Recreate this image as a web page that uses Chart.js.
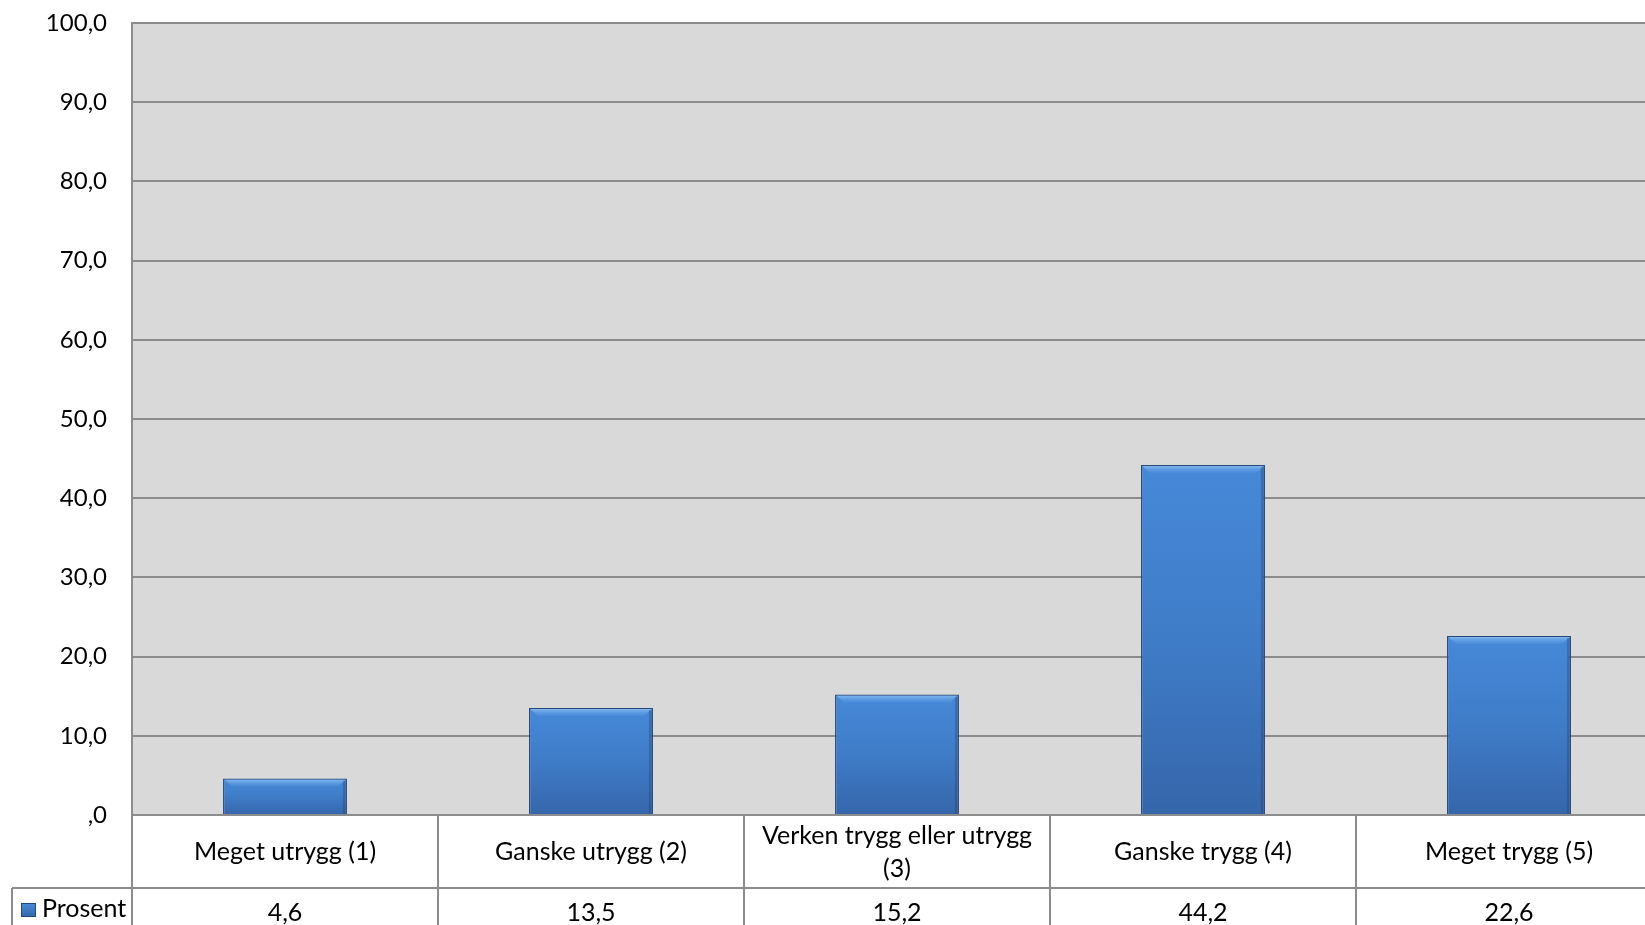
<!DOCTYPE html>
<html lang="no">
<head>
  <meta charset="UTF-8">
  <title>Prosent</title>
  <script src="https://cdn.jsdelivr.net/npm/chart.js"></script>
  <style>
    html, body {
      margin: 0;
      padding: 0;
      overflow: hidden;
      background: #fff;
    }
    canvas {
      display: block;
    }
  </style>
</head>
<body>
  <canvas id="grafico" width="1680" height="925"></canvas>

  <script>
    // data
    const kategorier = [
      'Meget utrygg (1)',
      'Ganske utrygg (2)',
      ['Verken trygg eller utrygg', '(3)'],
      'Ganske trygg (4)',
      'Meget trygg (5)'
    ];
    const prosent = [4.6, 13.5, 15.2, 44.2, 22.6];
    const serieNavn = 'Prosent';
    const yTicks = [0, 10, 20, 30, 40, 50, 60, 70, 80, 90, 100];

    const FONT = 'Lato, "Open Sans", sans-serif';
    const LINJE = '#8c8c8c';

    const komma = v => v.toFixed(1).replace('.', ',');
    const tickTekst = v => (v === 0 ? ',0' : komma(v));

    function stolpeFarge(context) {
      const chart = context.chart;
      const { ctx, chartArea } = chart;
      if (!chartArea || context.type !== 'data') return '#3f78c4';
      const y = chart.scales.y;
      const topp = y.getPixelForValue(context.parsed.y);
      const bunn = y.getPixelForValue(0);
      const g = ctx.createLinearGradient(0, topp, 0, bunn);
      g.addColorStop(0, '#4689d8');
      g.addColorStop(0.5, '#3f7cc8');
      g.addColorStop(1, '#3566aa');
      return g;
    }

    // bevel on top of the bars + data table under the plot
    const tabellPlugin = {
      id: 'tabell',
      afterDatasetsDraw(chart) {
        const { ctx } = chart;
        const meta = chart.getDatasetMeta(0);
        ctx.save();
        meta.data.forEach(bar => {
          const l = bar.x - bar.width / 2;
          const r = bar.x + bar.width / 2;
          const t = bar.y;
          const b = Math.min(t + 8, bar.base);
          const g = ctx.createLinearGradient(0, t, 0, b);
          g.addColorStop(0, 'rgba(150, 200, 250, 0.85)');
          g.addColorStop(1, 'rgba(90, 150, 225, 0.3)');
          ctx.fillStyle = g;
          ctx.beginPath();
          ctx.moveTo(l + 1, t + 1);
          ctx.lineTo(r - 1, t + 1);
          ctx.lineTo(r - 9, b);
          ctx.lineTo(l + 9, b);
          ctx.closePath();
          ctx.fill();
          ctx.fillStyle = 'rgba(25, 55, 100, 0.3)';
          ctx.fillRect(r - 4, t + 2, 3, bar.base - t - 2);
        });
        ctx.restore();
      },
      afterDraw(chart) {
        const { ctx, chartArea } = chart;
        const x = chart.scales.x;
        const bunn = chartArea.bottom;
        const rad1 = bunn + 73;
        const slutt = chart.height;
        const n = kategorier.length;
        ctx.save();
        ctx.strokeStyle = LINJE;
        ctx.lineWidth = 2;

        // horizontal lines
        ctx.beginPath();
        ctx.moveTo(chartArea.left, bunn);
        ctx.lineTo(chartArea.right, bunn);
        ctx.moveTo(12, rad1);
        ctx.lineTo(chartArea.right, rad1);
        ctx.stroke();

        // vertical lines
        const bredde = (x.getPixelForValue(1) - x.getPixelForValue(0));
        ctx.beginPath();
        for (let i = 0; i <= n; i++) {
          const px = x.getPixelForValue(i) - bredde / 2;
          ctx.moveTo(px, bunn);
          ctx.lineTo(px, slutt);
        }
        ctx.moveTo(12, rad1);
        ctx.lineTo(12, slutt);
        ctx.stroke();

        // category labels and values
        ctx.fillStyle = '#000';
        ctx.font = '25px ' + FONT;
        ctx.textAlign = 'center';
        ctx.textBaseline = 'middle';
        kategorier.forEach((k, i) => {
          const px = x.getPixelForValue(i);
          if (Array.isArray(k)) {
            ctx.fillText(k[0], px, bunn + 21);
            ctx.fillText(k[1], px, bunn + 54);
          } else {
            ctx.fillText(k, px, bunn + 37);
          }
          ctx.fillText(komma(prosent[i]), px, rad1 + 25);
        });

        // legend key
        const g = ctx.createLinearGradient(0, rad1 + 15, 0, rad1 + 29);
        g.addColorStop(0, '#4a8bd8');
        g.addColorStop(1, '#3465a8');
        ctx.fillStyle = g;
        ctx.fillRect(21, rad1 + 15, 15, 14);
        ctx.strokeStyle = '#1f4a80';
        ctx.lineWidth = 1;
        ctx.strokeRect(21.5, rad1 + 15.5, 14, 13);
        ctx.fillStyle = '#000';
        ctx.textAlign = 'left';
        ctx.fillText(serieNavn, 42, rad1 + 21);
        ctx.restore();
      }
    };

    const plotBakgrunn = {
      id: 'plotBakgrunn',
      beforeDraw(chart) {
        const { ctx, chartArea } = chart;
        ctx.save();
        ctx.fillStyle = '#d9d9d9';
        ctx.fillRect(chartArea.left, chartArea.top, chartArea.right - chartArea.left, chartArea.bottom - chartArea.top);
        ctx.restore();
      }
    };

    const ctx = document.getElementById('grafico').getContext('2d');

    new Chart(ctx, {
      type: 'bar',
      data: {
        labels: kategorier,
        datasets: [{
          label: serieNavn,
          data: prosent,
          backgroundColor: stolpeFarge,
          borderColor: '#244a7d',
          borderWidth: 1.5,
          barPercentage: 0.405,
          categoryPercentage: 1
        }]
      },
      options: {
        responsive: false,
        animation: false,
        devicePixelRatio: 1,
        layout: {
          padding: { top: 23, right: 18, left: 0, bottom: 0 }
        },
        plugins: {
          legend: { display: false },
          tooltip: { enabled: false }
        },
        scales: {
          x: {
            grid: { display: false },
            border: { display: false },
            ticks: { display: false },
            afterFit(scale) { scale.height = 110; }
          },
          y: {
            min: 0,
            max: 100,
            afterBuildTicks(scale) {
              scale.ticks = yTicks.map(v => ({ value: v }));
            },
            grid: {
              color: LINJE,
              lineWidth: 2,
              drawTicks: false
            },
            border: { display: true, color: LINJE, width: 2 },
            ticks: {
              padding: 25,
              color: '#000',
              font: { family: FONT, size: 24 },
              callback: v => tickTekst(v)
            },
            afterFit(scale) {
              scale.width = 132;
              scale.paddingTop = 0;
              scale.paddingBottom = 0;
            }
          }
        }
      },
      plugins: [plotBakgrunn, tabellPlugin]
    });
  </script>
</body>
</html>
